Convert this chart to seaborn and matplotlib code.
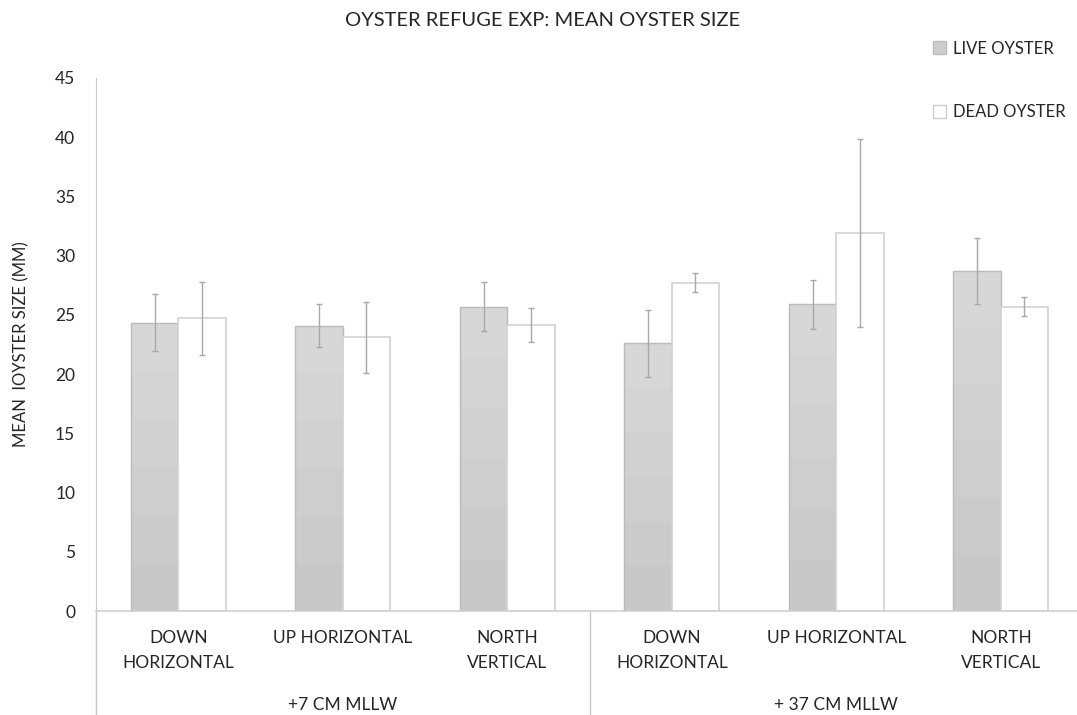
import numpy as np
import pandas as pd
import matplotlib
matplotlib.use("Agg")
import matplotlib.pyplot as plt
import matplotlib.transforms as mtransforms
from matplotlib.patches import Patch
from matplotlib.colors import LinearSegmentedColormap
import seaborn as sns

# data
positions = ["DOWN\nHORIZONTAL", "UP HORIZONTAL", "NORTH\nVERTICAL"] * 2
heights = ["+7 CM MLLW", "+ 37 CM MLLW"]
live_mean = [24.35, 24.1, 25.7, 22.6, 25.9, 28.7]
live_err = [2.4, 1.8, 2.1, 2.85, 2.05, 2.8]
dead_mean = [24.7, 23.1, 24.15, 27.7, 31.9, 25.7]
dead_err = [3.1, 3.0, 1.4, 0.8, 7.95, 0.8]
series = ["LIVE OYSTER", "DEAD OYSTER"]

keys = [f"{h}|{i}" for h in heights for i in range(3)]
df = pd.DataFrame({
    "site": keys * 2,
    "series": [series[0]] * 6 + [series[1]] * 6,
    "size": live_mean + dead_mean,
})

sns.set_style("white")
plt.rcParams["font.family"] = ["Lato", "DejaVu Sans"]
txt = "#262626"

fig = plt.figure(figsize=(10.77, 7.15), dpi=100)
W, H = 1077, 715
ax = fig.add_axes([96 / W, 1 - 611 / H, (1083 - 96) / W, (611 - 78) / H])

sns.barplot(data=df, x="site", y="size", hue="series", order=keys,
            hue_order=series, palette=["#cdcdcd", "white"], width=0.575,
            errorbar=None, legend=False, ax=ax, zorder=2)

# gradient fill for live bars, white bars with light outline
cmap = LinearSegmentedColormap.from_list("g", ["#c8c8c8", "#d7d7d7"])
grad = np.linspace(0, 1, 6).reshape(-1, 1)
for p in ax.containers[0]:
    x0, w, h = p.get_x(), p.get_width(), p.get_height()
    p.set_facecolor("none")
    p.set_edgecolor("#bababa")
    p.set_linewidth(1.0)
    im = ax.imshow(grad, extent=[x0, x0 + w, 0, h], origin="lower",
                   aspect="auto", cmap=cmap, zorder=1.5, interpolation="nearest")
    im.set_clip_path(p)
for p in ax.containers[1]:
    p.set_edgecolor("#d2d2d2")
    p.set_linewidth(1.2)

ax.set_ylim(0, 45)
ax.set_xlim(-0.5, 5.5)

for cont, means, errs in [(ax.containers[0], live_mean, live_err),
                          (ax.containers[1], dead_mean, dead_err)]:
    xs = [p.get_x() + p.get_width() / 2 for p in cont]
    ax.errorbar(xs, means, yerr=errs, fmt="none", ecolor="#a8a8a8",
                elinewidth=1, capsize=2.5, capthick=1, zorder=3)

# axes styling
sns.despine(ax=ax, top=True, right=True)
ax.spines["left"].set_color("#c8c8c8")
ax.spines["bottom"].set_color("#d0d0d0")
ax.spines["bottom"].set_linewidth(1.2)
ax.set_yticks(range(0, 46, 5))
ax.tick_params(axis="y", length=0, pad=15, labelsize=12.5, labelcolor=txt)
ax.set_xticks(range(6))
ax.set_xticklabels(positions, fontsize=12.5, color=txt, linespacing=1.65)
ax.tick_params(axis="x", length=0, pad=14)
ax.set_xlabel("")
ax.set_ylabel("MEAN  IOYSTER SIZE (MM)", fontsize=12, color=txt, labelpad=18)

# multi-level category axis
trans = mtransforms.blended_transform_factory(ax.transData, ax.transAxes)
for xv in [-0.5, 2.5, 5.5]:
    ax.plot([xv, xv], [0, -0.2], transform=trans, color="#c8c8c8",
            lw=1, clip_on=False)
for gi, name in enumerate(heights):
    ax.text(gi * 3 + 1, -0.176, name, transform=trans, ha="center",
            va="center", fontsize=12.5, color=txt)

fig.suptitle("OYSTER REFUGE EXP: MEAN OYSTER SIZE", x=543 / W, y=1 - 21 / H,
             va="center", fontsize=14.5, color=txt)

handles = [Patch(facecolor="#cdcdcd", edgecolor="#bdbdbd"),
           Patch(facecolor="white", edgecolor="#cfcfcf")]
fig.legend(handles, series, loc="upper left",
           bbox_to_anchor=(933 / W, 1 - 40.5 / H), frameon=False,
           fontsize=12, labelcolor=txt, handlelength=0.8, handleheight=0.8,
           handletextpad=0.4, labelspacing=2.85, borderaxespad=0, borderpad=0)

fig.savefig("out.png", dpi=100)
